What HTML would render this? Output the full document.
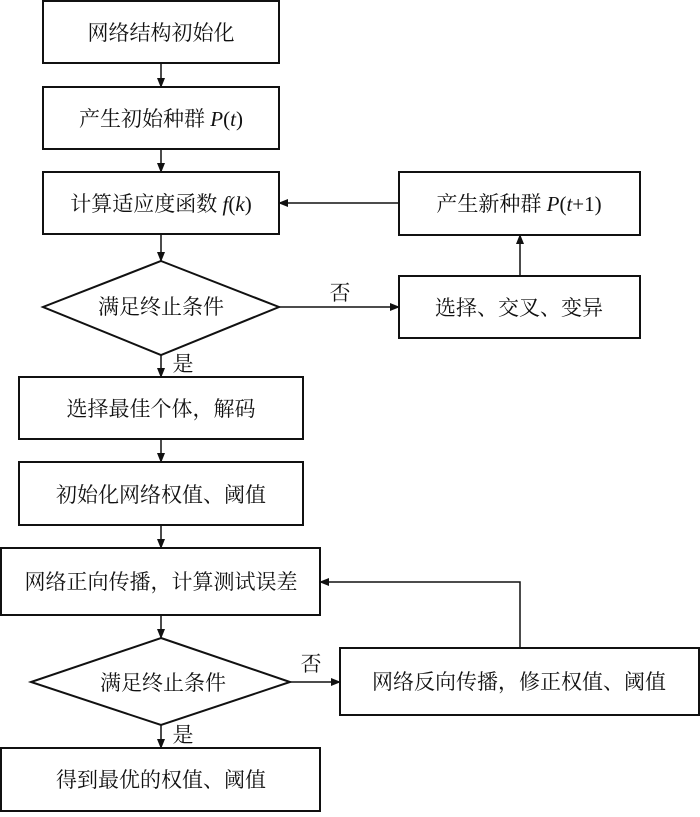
<!DOCTYPE html>
<html><head><meta charset="utf-8"><style>
html,body{margin:0;padding:0;background:#fff}
svg text{font-family:"Liberation Serif","Noto Serif CJK SC",serif;font-size:21px;fill:#111}
</style></head><body>
<svg width="700" height="812" viewBox="0 0 700 812" xmlns="http://www.w3.org/2000/svg">
<defs><marker id="a" markerWidth="10" markerHeight="8" refX="9" refY="4" orient="auto" markerUnits="userSpaceOnUse"><path d="M0,0 L10,4 L0,8 Z" fill="#111"/></marker></defs>
<g fill="none" stroke="#111" stroke-width="2">
<rect x="43" y="1" width="236" height="62"/>
<rect x="43" y="87" width="236" height="62"/>
<rect x="43" y="172" width="236" height="62"/>
<polygon points="161,261 279,307 161,355 43,307"/>
<rect x="399" y="172" width="241" height="63"/>
<rect x="399" y="276" width="241" height="62"/>
<rect x="19" y="377" width="284" height="62"/>
<rect x="19" y="462" width="284" height="63"/>
<rect x="1" y="548" width="319" height="67"/>
<polygon points="161,638 290,682 161,725 31,682"/>
<rect x="340" y="648" width="359" height="67"/>
<rect x="1" y="748" width="319" height="63"/>
</g>
<g stroke="#111" stroke-width="1.5" fill="none" marker-end="url(#a)">
<line x1="161" y1="63" x2="161" y2="87"/>
<line x1="161" y1="149" x2="161" y2="172"/>
<line x1="161" y1="234" x2="161" y2="261"/>
<line x1="279" y1="307" x2="399" y2="307"/>
<line x1="520" y1="276" x2="520" y2="235"/>
<line x1="399" y1="203" x2="279" y2="203"/>
<line x1="161" y1="355" x2="161" y2="377"/>
<line x1="161" y1="439" x2="161" y2="462"/>
<line x1="161" y1="525" x2="161" y2="548"/>
<line x1="161" y1="615" x2="161" y2="638"/>
<line x1="290" y1="682" x2="340" y2="682"/>
<polyline points="520,648 520,582 320,582"/>
<line x1="161" y1="725" x2="161" y2="748"/>
</g>
<g text-anchor="middle">
<text x="161" y="40">网络结构初始化</text>
<text x="161" y="126">产生初始种群 <tspan font-style="italic">P</tspan>(<tspan font-style="italic">t</tspan>)</text>
<text x="161" y="211">计算适应度函数 <tspan font-style="italic">f</tspan>(<tspan font-style="italic">k</tspan>)</text>
<text x="161" y="314">满足终止条件</text>
<text x="519" y="211">产生新种群 <tspan font-style="italic">P</tspan>(<tspan font-style="italic">t</tspan>+1)</text>
<text x="519" y="315">选择、交叉、变异</text>
<text x="161" y="416">选择最佳个体，解码</text>
<text x="161" y="502">初始化网络权值、阈值</text>
<text x="161" y="589">网络正向传播，计算测试误差</text>
<text x="163" y="690">满足终止条件</text>
<text x="519" y="689">网络反向传播，修正权值、阈值</text>
<text x="161" y="787">得到最优的权值、阈值</text>
<text x="340" y="300">否</text>
<text x="183" y="371">是</text>
<text x="311" y="671">否</text>
<text x="183" y="742">是</text>
</g>
</svg>
</body></html>
